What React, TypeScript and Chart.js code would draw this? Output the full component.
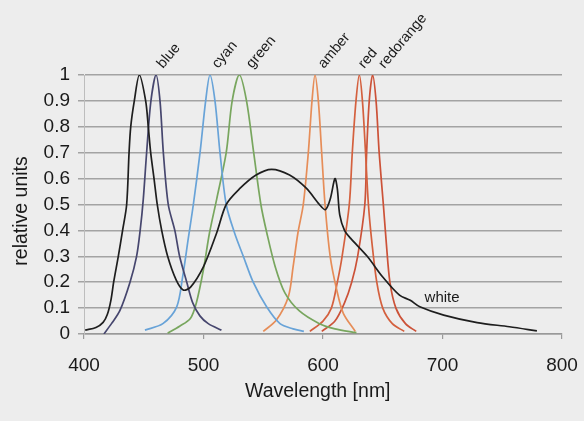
import React, { useEffect, useRef } from "react";
import { Chart, registerables } from "chart.js";

Chart.register(...registerables);

// ---- data (wavelength in nm, relative units) ----
const whiteNm = [401, 410, 416, 419.5, 422.5, 424.8, 428.7, 432.3, 435.7, 437.7, 439.1, 442.1, 446.3, 451.6, 453.8, 455.8, 458.6, 461.3, 465, 470, 477, 483, 489, 500, 511, 519, 530, 544, 557, 572, 586, 597, 602, 606, 610, 612, 614, 618, 623, 637, 650, 664, 673, 681, 701, 729, 756, 779];
const whiteVal = [0.015, 0.025, 0.045, 0.075, 0.13, 0.2, 0.3, 0.4, 0.5, 0.7, 0.8, 0.9, 1.0, 0.9, 0.8, 0.7, 0.6, 0.5, 0.4, 0.3, 0.21, 0.17, 0.18, 0.26, 0.39, 0.5, 0.56, 0.614, 0.636, 0.614, 0.563, 0.5, 0.48, 0.52, 0.6, 0.56, 0.46, 0.4, 0.37, 0.3, 0.22, 0.15, 0.13, 0.105, 0.073, 0.044, 0.028, 0.012];

const blueNm = [416.7, 423, 430, 438.5, 444, 447, 449.6, 452.4, 456, 460.3, 463.6, 466.4, 470.5, 476, 480, 486, 491, 497, 504, 515];
const blueVal = [0, 0.04, 0.09, 0.2, 0.3, 0.4, 0.52, 0.7, 0.9, 1.0, 0.9, 0.7, 0.5, 0.4, 0.3, 0.2, 0.12, 0.07, 0.04, 0.015];

const cyanNm = [451, 466, 477.6, 482.5, 487.3, 491.5, 497.1, 501.8, 505.4, 509.6, 513.8, 519, 526, 533.3, 541.6, 552.8, 564, 575, 584];
const cyanVal = [0.015, 0.04, 0.105, 0.22, 0.37, 0.5, 0.7, 0.9, 1.0, 0.9, 0.7, 0.5, 0.39, 0.3, 0.2, 0.105, 0.04, 0.02, 0.01];

const greenNm = [470, 480, 489, 494, 500, 505, 511, 519, 524, 530, 536, 542, 548, 553, 560, 568, 580, 597, 610, 628];
const greenVal = [0.003, 0.03, 0.06, 0.12, 0.25, 0.39, 0.52, 0.7, 0.9, 1.0, 0.9, 0.7, 0.5, 0.39, 0.26, 0.16, 0.09, 0.04, 0.02, 0.005];

const amberNm = [550, 561, 571, 575, 579, 583.5, 587.7, 590.8, 593.3, 596.1, 598.9, 601.7, 606, 611.5, 617, 627];
const amberVal = [0.01, 0.054, 0.144, 0.26, 0.39, 0.5, 0.7, 0.9, 1.0, 0.9, 0.7, 0.5, 0.3, 0.17, 0.08, 0.01];

const redNm = [589, 600, 607, 612, 616, 622, 624.5, 627.6, 630.4, 633, 635.6, 638, 641, 645, 650, 658, 668];
const redVal = [0.01, 0.05, 0.1, 0.2, 0.3, 0.5, 0.7, 0.9, 1.0, 0.9, 0.7, 0.5, 0.35, 0.2, 0.1, 0.04, 0.01];

const redorangeNm = [599, 610, 618, 624, 629, 635, 636.5, 638.7, 641.5, 644.4, 647, 650.5, 653, 656, 661, 669, 678];
const redorangeVal = [0.01, 0.05, 0.12, 0.2, 0.3, 0.5, 0.7, 0.9, 1.0, 0.9, 0.7, 0.5, 0.35, 0.2, 0.1, 0.04, 0.01];

const seriesNames = ["white", "blue", "cyan", "green", "amber", "red", "redorange"];
const seriesColors = ["#1e1e1e", "#46466e", "#68a3d8", "#78a65e", "#e68d58", "#d4603e", "#cc5238"];
const seriesNmList = [whiteNm, blueNm, cyanNm, greenNm, amberNm, redNm, redorangeNm];
const seriesValList = [whiteVal, blueVal, cyanVal, greenVal, amberVal, redVal, redorangeVal];

// labels drawn near the peaks
const peakLabels = ["blue", "cyan", "green", "amber", "red", "redorange"];
const peakLabelNm = [460.3, 505.4, 530, 593.3, 630.4, 641.5];
const peakLabelShift = [7, 8, 13, 9, 5, 12];
const whiteLabel = "white";

const xAxisTitle = "Wavelength [nm]";
const yAxisTitle = "relative units";

const FONT = "'Liberation Sans', Arial, Helvetica, sans-serif";

const bgPlugin = {
  id: "bgFill",
  beforeDraw(chart: any) {
    const { ctx, width, height } = chart;
    ctx.save();
    ctx.fillStyle = "#ededed";
    ctx.fillRect(0, 0, width, height);
    ctx.restore();
  },
};

const labelPlugin = {
  id: "peakLabels",
  afterDatasetsDraw(chart: any) {
    const { ctx } = chart;
    const xs = chart.scales.x;
    const ys = chart.scales.y;
    ctx.save();
    ctx.fillStyle = "#1a1a1a";
    ctx.font = `14.5px ${FONT}`;
    ctx.textAlign = "left";
    ctx.textBaseline = "alphabetic";
    peakLabels.forEach((name, i) => {
      const px = xs.getPixelForValue(peakLabelNm[i]) + peakLabelShift[i];
      const py = ys.getPixelForValue(1) - 6;
      ctx.save();
      ctx.translate(px, py);
      ctx.rotate((-50 * Math.PI) / 180);
      ctx.fillText(name, 0, 0);
      ctx.restore();
    });
    ctx.font = `15px ${FONT}`;
    ctx.fillText(whiteLabel, xs.getPixelForValue(685), ys.getPixelForValue(0.123));

    // axis titles
    ctx.font = `19.5px ${FONT}`;
    ctx.textAlign = "center";
    ctx.textBaseline = "middle";
    ctx.fillText(xAxisTitle, xs.left + (xs.right - xs.left) * 0.489, 392);
    ctx.save();
    ctx.translate(22, ys.top + (ys.bottom - ys.top) * 0.525);
    ctx.rotate(-Math.PI / 2);
    ctx.fillText(yAxisTitle, 0, 0);
    ctx.restore();
    ctx.restore();
  },
};

export default function App() {
  const canvasRef = useRef<HTMLCanvasElement | null>(null);

  useEffect(() => {
    if (!canvasRef.current) return;
    const datasets = seriesNames.map((name, i) => ({
      label: name,
      data: seriesNmList[i].map((nm, j) => ({ x: nm, y: seriesValList[i][j] })),
      borderColor: seriesColors[i],
      backgroundColor: seriesColors[i],
      borderWidth: 1.7,
      pointRadius: 0,
      fill: false,
      tension: 0.3,
    }));
    const chart = new Chart(canvasRef.current, {
      type: "line",
      data: { datasets },
      options: {
        animation: false,
        responsive: false,
        maintainAspectRatio: false,
        layout: { padding: { top: 75, right: 22, left: 0, bottom: 0 } },
        plugins: {
          legend: { display: false },
          tooltip: { enabled: false },
        },
        scales: {
          x: {
            type: "linear",
            min: 400,
            max: 800,
            ticks: {
              stepSize: 100,
              color: "#1a1a1a",
              font: { family: FONT, size: 19 },
              padding: 15,
            },
            grid: {
              display: true,
              drawOnChartArea: false,
              drawTicks: true,
              tickLength: 5,
              color: "#9a9a9a",
              lineWidth: 1.2,
            },
            border: { display: true, color: "#999999", width: 1.5 },
            title: { display: false, text: xAxisTitle },
            afterFit(scale: any) {
              scale.height = 87;
              scale.paddingLeft = 0;
              scale.paddingRight = 0;
            },
          },
          y: {
            type: "linear",
            min: 0,
            max: 1,
            ticks: {
              stepSize: 0.1,
              color: "#1a1a1a",
              font: { family: FONT, size: 19 },
              padding: 8,
              callback: (v: any) => String(Math.round(Number(v) * 10) / 10),
            },
            grid: {
              display: true,
              drawTicks: true,
              tickLength: 6,
              color: "#a3a3a3",
              lineWidth: 1.5,
            },
            border: { display: true, color: "#bdbdbd", width: 1 },
            title: { display: false, text: yAxisTitle },
            afterFit(scale: any) {
              scale.width = 84;
              scale.paddingTop = 0;
              scale.paddingBottom = 0;
            },
          },
        },
      },
      plugins: [bgPlugin, labelPlugin],
    });
    return () => chart.destroy();
  }, []);

  return (
    <div style={{ position: "fixed", left: 0, top: 0, width: 584, height: 421 }}>
      <canvas ref={canvasRef} width={584} height={421} style={{ width: 584, height: 421, display: "block" }} />
    </div>
  );
}
